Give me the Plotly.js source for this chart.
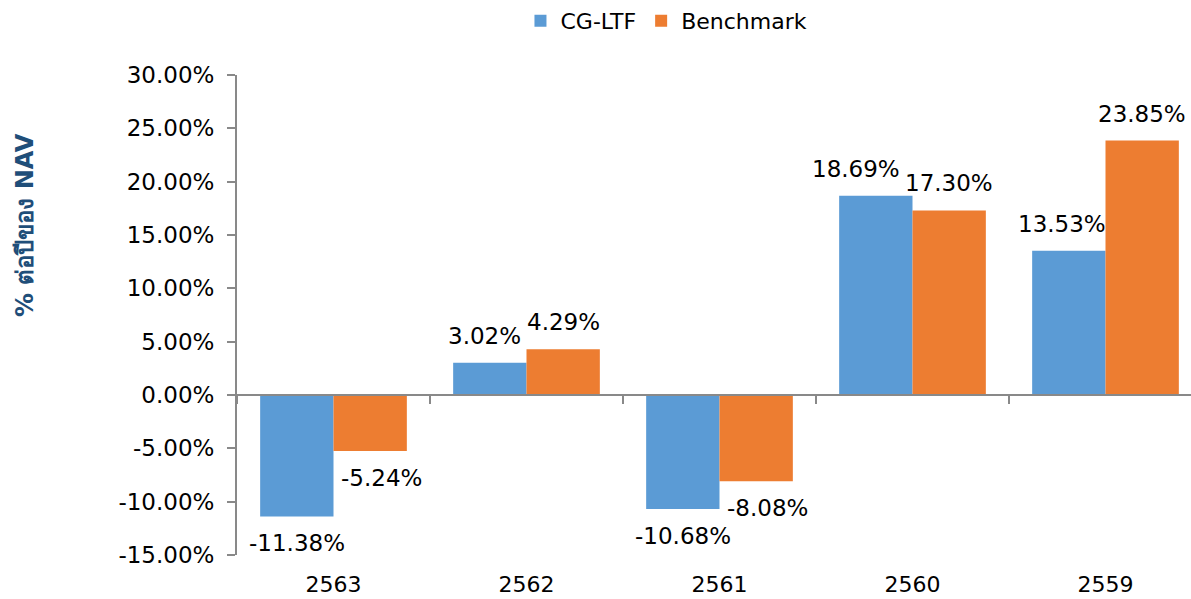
<!DOCTYPE html>
<html><head><meta charset="utf-8">
<script src="https://cdn.plot.ly/plotly-3.0.1.min.js"></script>
<style>html,body{margin:0;padding:0;background:#fff}#chart{width:1191px;height:599px}</style>
</head><body><div id="chart"></div>
<script>
const years = ['2563','2562','2561','2560','2559'];
const cgltf = [-11.38, 3.02, -10.68, 18.69, 13.53];
const benchmark = [-5.24, 4.29, -8.08, 17.30, 23.85];
const seriesNames = ['CG-LTF','Benchmark'];
const yTickVals = [-15, -10, -5, 0, 5, 10, 15, 20, 25, 30];
const yTitle = '% ต่อปีของ NAV';

const FONT = 'Tahoma, "DejaVu Sans", sans-serif';
const lbl = v => v.toFixed(2) + '%';
const colors = ['#5B9BD5', '#ED7D31'];
const series = [cgltf, benchmark];

const traces = series.map((vals, k) => ({
  type:'bar', name:seriesNames[k], x:years, y:vals, marker:{color:colors[k]}, hoverinfo:'skip'
}));
traces.push({type:'scatter', x:years, y:years.map(()=>0), xaxis:'x2', mode:'markers',
   marker:{opacity:0}, showlegend:false, hoverinfo:'skip'});

// label placement helpers (pixel geometry of the layout below)
const barHalf = 36.7;          // half a bar slot, px
const pxPerUnit = 480/45;      // px per % on y
const LSH = 27, LH = 24;       // label offset from bar end, label height
const charW = {'.':7.3, '%':21.8, '-':8.3};
const labelW = s => s.split('').reduce((w,c) => w + (charW[c] || 14.6), 0);
const labelSpan = v => { const c = v * pxPerUnit + (v >= 0 ? LSH : -LSH); return [c - LH/2, c + LH/2]; };
const barCovers = (bv, v) => { const s = labelSpan(v); const lo = Math.min(0, bv*pxPerUnit), hi = Math.max(0, bv*pxPerUnit); return s[1] > lo && s[0] < hi; };

const annotations = [];
years.forEach((yr, i) => {
  const a = cgltf[i], b = benchmark[i];
  const la = lbl(a), lb = lbl(b);
  let shiftA = -barHalf, shiftB = barHalf;
  // keep a label off the neighbouring bar
  if (barCovers(b, a)) shiftA = Math.min(shiftA, -labelW(la)/2);
  if (barCovers(a, b)) shiftB = Math.max(shiftB, labelW(lb)/2 + 7);
  // keep labels off each other
  const sa = labelSpan(a), sb = labelSpan(b);
  if (sa[1] > sb[0] && sa[0] < sb[1]) {
    const need = (labelW(la) + labelW(lb)) / 2 + 6 - (shiftB - shiftA);
    if (need > 0) shiftA -= need;
  }
  [[a, la, shiftA], [b, lb, shiftB]].forEach(function(it) {
    annotations.push({x:i, y:it[0], xref:'x', yref:'y', text:it[1], showarrow:false,
      xshift:it[2], yshift: it[0] >= 0 ? LSH : -LSH, xanchor:'center', yanchor:'middle',
      font:{family:FONT, size:23, color:'#000'}});
  });
});
annotations.push({text:yTitle, xref:'paper', yref:'paper', x:0, xshift:-212, y:0.6875, textangle:-90,
  showarrow:false, xanchor:'center', yanchor:'middle',
  font:{family:FONT, size:24, color:'#1F4E79', weight:'bold'}});

const layout = {
  width:1191, height:599,
  margin:{l:237, r:0, t:75, b:44},
  paper_bgcolor:'#fff', plot_bgcolor:'#fff',
  font:{family:FONT, size:22, color:'#000'},
  barmode:'group', bargap:0.24, bargroupgap:0,
  showlegend:true,
  legend:{orientation:'h', x:0.437, xref:'container', xanchor:'left', y:1, yref:'container', yanchor:'top',
          font:{family:FONT, size:22}, itemwidth:30},
  xaxis:{type:'category', range:[-0.5, 4.443], showline:false, ticks:'', showgrid:false, zeroline:false,
         tickfont:{family:FONT, size:22}, ticklabelstandoff:14},
  xaxis2:{type:'category', overlaying:'x', anchor:'free', position:1/3, range:[-0.5, 4.443],
          showline:true, linecolor:'#898989', linewidth:2, ticks:'outside', tickson:'boundaries',
          ticklen:8, tickcolor:'#898989', tickwidth:2, showticklabels:false, showgrid:false, side:'bottom'},
  yaxis:{range:[-15,30], tickmode:'array', tickvals:yTickVals, ticktext:yTickVals.map(lbl),
         showgrid:false, zeroline:false,
         showline:true, linecolor:'#898989', linewidth:2, ticks:'outside', ticklen:8, tickcolor:'#898989', tickwidth:2,
         tickfont:{family:FONT, size:23}, ticklabelstandoff:8},
  annotations:annotations
};

Plotly.newPlot('chart', traces, layout, {displayModeBar:false, staticPlot:true});
</script></body></html>
